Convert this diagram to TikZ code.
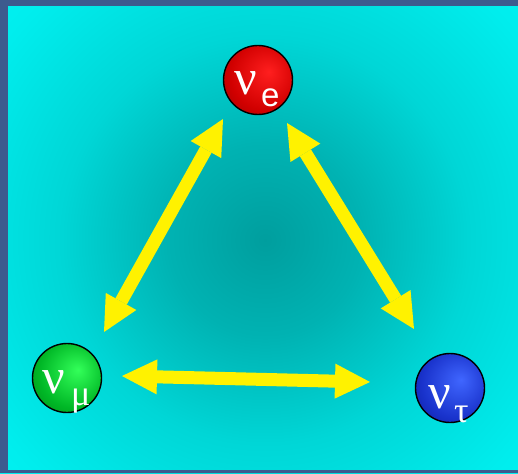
\documentclass[tikz,border=0pt]{standalone}
\usepackage{fontspec}
\setmainfont{Liberation Sans}
\newfontfamily\greekserif{Liberation Serif}
\usetikzlibrary{arrows.meta}
\pgfdeclareradialshading{bgshade}{\pgfpoint{0bp}{0bp}}{rgb(0bp)=(0,0.62,0.62); rgb(8bp)=(0,0.70,0.70); rgb(17bp)=(0,0.84,0.84); rgb(27bp)=(0,0.93,0.93); rgb(36bp)=(0,0.98,0.98); rgb(50bp)=(0,1,1)}
\pgfdeclareradialshading{redball}{\pgfpoint{8bp}{6bp}}{rgb(0bp)=(1,0.12,0.12); rgb(25bp)=(0.82,0,0); rgb(50bp)=(0.5,0,0); rgb(60bp)=(0.4,0,0)}
\pgfdeclareradialshading{greenball}{\pgfpoint{8bp}{6bp}}{rgb(0bp)=(0.2,1,0.35); rgb(25bp)=(0,0.72,0.15); rgb(50bp)=(0,0.42,0.05); rgb(60bp)=(0,0.35,0.03)}
\pgfdeclareradialshading{blueball}{\pgfpoint{8bp}{6bp}}{rgb(0bp)=(0.25,0.4,1); rgb(25bp)=(0.1,0.2,0.8); rgb(50bp)=(0,0.05,0.5); rgb(60bp)=(0,0.03,0.4)}
\definecolor{frame}{RGB}{61,91,142}
\tikzset{
  ball/.style={circle, inner sep=0pt, minimum size=69pt, draw=black, line width=1.4pt},
  nu/.style={text=white, font=\greekserif\fontsize{50}{50}\selectfont, inner sep=0pt, anchor=base west},
  sub/.style={text=white, font=\fontsize{33}{33}\selectfont, inner sep=0pt, anchor=base west},
  subg/.style={text=white, font=\greekserif\fontsize{36}{36}\selectfont, inner sep=0pt, anchor=base west},
  osc/.style={draw=yellow, line width=13pt,
    {Triangle[length=35pt,width=35pt,line width=0pt]}-{Triangle[length=35pt,width=35pt,line width=0pt]}}
}
\begin{document}
\begin{tikzpicture}[x=1pt,y=-1pt]
\useasboundingbox (0,0) rectangle (518,473);
\begin{scope}
  \clip (0,0) rectangle (518,473);
  \shade[shading=bgshade] (-35,-60) rectangle (565,540);
\end{scope}
\fill[frame] (0,0) rectangle (8,473);
\fill[frame] (0,0) rectangle (518,6);
\fill[frame] (0,470) rectangle (518,473);
% spheres
\node[ball, shading=redball] (e) at (258,80) {};
\node[ball, shading=greenball] (mu) at (67,378) {};
\node[ball, shading=blueball] (tau) at (450,388) {};
% labels
\node[nu] (nue) at (234,95) {ν};
\node[sub] (sube) at (261,107) {e};
\node[nu] (numu) at (42,393) {ν};
\node[subg] (submu) at (71,405) {μ};
\node[nu] (nutau) at (428,408) {ν};
\node[subg] (subtau) at (454,422) {τ};
% arrow ends
\coordinate (a1) at (223,119);
\coordinate (a2) at (104,332);
\coordinate (b1) at (287,123);
\coordinate (b2) at (414,329);
\coordinate (c1) at (122,376);
\coordinate (c2) at (370,382);
\draw[osc] (a2) -- (a1);
\draw[osc] (b1) -- (b2);
\draw[osc] (c1) -- (c2);
\end{tikzpicture}
\end{document}
